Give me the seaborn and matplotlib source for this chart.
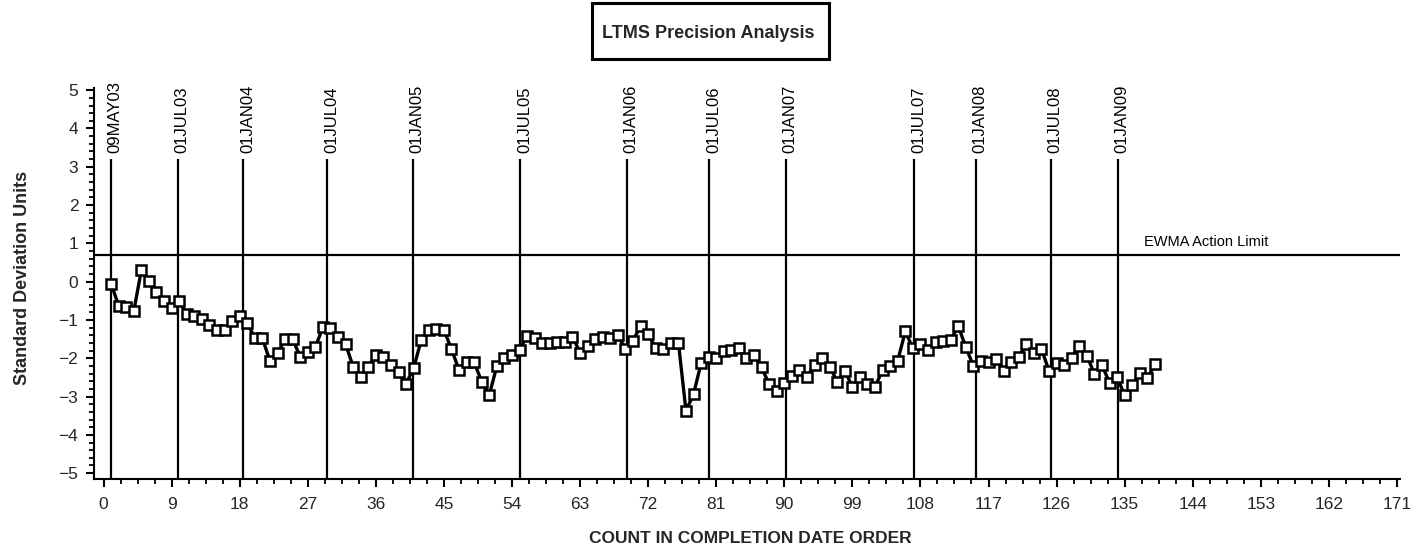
import pandas as pd
import matplotlib
matplotlib.use("Agg")
import matplotlib.pyplot as plt
from matplotlib.patches import Rectangle
from matplotlib.ticker import MultipleLocator
import seaborn as sns

# EWMA values in standard deviation units, one per test in completion order
sdu = [
    -0.05, -0.63, -0.65, -0.77, 0.30, 0.03, -0.28, -0.50, -0.70, -0.51,
    -0.84, -0.89, -0.98, -1.13, -1.26, -1.26, -1.03, -0.90, -1.07, -1.48,
    -1.48, -2.07, -1.87, -1.50, -1.50, -1.96, -1.83, -1.71, -1.19, -1.22,
    -1.44, -1.63, -2.22, -2.48, -2.22, -1.91, -1.96, -2.18, -2.37, -2.66,
    -2.26, -1.52, -1.26, -1.24, -1.26, -1.76, -2.31, -2.09, -2.11, -2.61,
    -2.96, -2.20, -2.00, -1.91, -1.78, -1.42, -1.48, -1.61, -1.61, -1.57,
    -1.57, -1.44, -1.85, -1.67, -1.50, -1.45, -1.48, -1.39, -1.77, -1.54,
    -1.16, -1.37, -1.74, -1.76, -1.59, -1.59, -3.37, -2.94, -2.13, -1.98,
    -2.00, -1.80, -1.78, -1.74, -2.00, -1.91, -2.24, -2.68, -2.85, -2.64,
    -2.46, -2.31, -2.48, -2.18, -2.00, -2.22, -2.61, -2.33, -2.74, -2.50,
    -2.67, -2.74, -2.31, -2.20, -2.06, -1.30, -1.74, -1.63, -1.78, -1.57,
    -1.54, -1.52, -1.16, -1.71, -2.20, -2.06, -2.11, -2.02, -2.33, -2.09,
    -1.98, -1.63, -1.85, -1.76, -2.33, -2.13, -2.18, -1.99, -1.68, -1.93,
    -2.41, -2.18, -2.64, -2.50, -2.96, -2.71, -2.39, -2.52, -2.16,
]
counts = list(range(1, len(sdu) + 1))

# date reference lines
ref_dates = ["09MAY03", "01JUL03", "01JAN04", "01JUL04", "01JAN05", "01JUL05",
             "01JAN06", "01JUL06", "01JAN07", "01JUL07", "01JAN08", "01JUL08",
             "01JAN09"]
ref_counts = [1, 9.8, 18.5, 29.6, 40.9, 55.1, 69.2, 80.1, 90.2, 107.2, 115.3,
              125.2, 134.1]

action_limit = 0.69
x_ticks = list(range(0, 172, 9))
y_ticks = list(range(-5, 6))

sns.set_theme(style="ticks")
plt.rcParams['font.family'] = ['Liberation Sans Narrow', 'Liberation Sans', 'DejaVu Sans']

fig = plt.figure(figsize=(14.11, 5.5), dpi=100)
ax = fig.add_axes([0.0663, 0.1293, 0.9259, 0.7102])

df = pd.DataFrame({"count": counts, "sdu": sdu})
sns.lineplot(data=df, x="count", y="sdu", ax=ax, color="black", linewidth=2.4,
             marker="s", markersize=7.2, markerfacecolor="white",
             markeredgecolor="black", markeredgewidth=1.8, zorder=3)

ax.set_xlim(-1.32, 171.4)
ax.set_ylim(-5.15, 5.05)

# reference lines and their date labels
ax.vlines(ref_counts, -5.15, 3.2, color="black", linewidth=1.6, zorder=1)
for c, lab in zip(ref_counts, ref_dates):
    ax.text(c + 0.55, 3.36, lab, rotation=90, ha="center", va="bottom",
            fontsize=12, color="black")

ax.axhline(action_limit, color="black", linewidth=1.6, zorder=1)
ax.text(137.6, action_limit + 0.16, "EWMA Action Limit", ha="left", va="bottom",
        fontsize=10.5, color="black")

ax.set_xticks(x_ticks)
ax.set_yticks(y_ticks)
ax.xaxis.set_minor_locator(MultipleLocator(2.25))
ax.yaxis.set_minor_locator(MultipleLocator(0.2))
ax.tick_params(which="major", length=6, width=1.5, color="black", labelsize=12.5)
ax.tick_params(which="minor", length=3.5, width=1.3, color="black")
ax.tick_params(axis="x", which="major", pad=7)
ax.tick_params(axis="y", which="major", pad=5)
ax.set_xlabel("")
ax.set_ylabel("")

for side in ["top", "right"]:
    ax.spines[side].set_visible(False)
for side in ["left", "bottom"]:
    ax.spines[side].set_color("black")
    ax.spines[side].set_linewidth(1.5)

# titles
fig.patches.append(Rectangle((0.4196, 0.8927), 0.168, 0.1018, transform=fig.transFigure,
                             fill=False, edgecolor="black", linewidth=2.2))
fig.text(0.5018, 0.94, "LTMS Precision Analysis", ha="center", va="center",
         fontsize=13, fontweight="bold")
fig.text(0.0156, 0.4945, "Standard Deviation Units", rotation=90, ha="center",
         va="center", fontsize=13, fontweight="bold")
fig.text(0.5315, 0.0218, "COUNT IN COMPLETION DATE ORDER", ha="center", va="center",
         fontsize=12.5, fontweight="bold")

fig.savefig("out.png", dpi=100)
